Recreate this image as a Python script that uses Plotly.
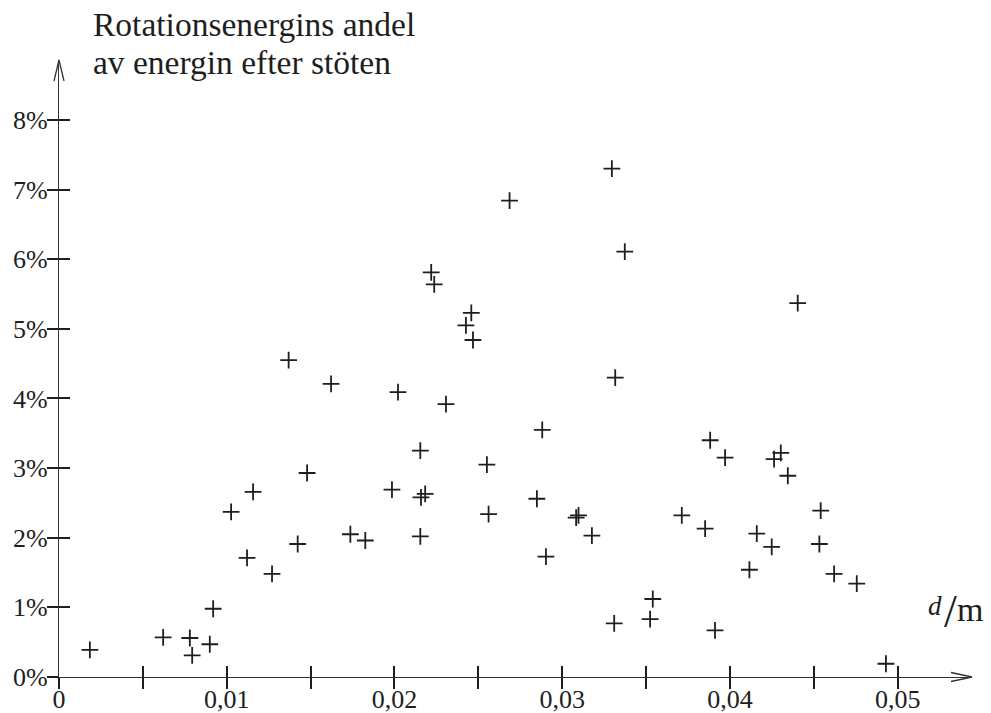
import plotly.graph_objects as go

# ---- data (d in metres, share of rotational energy in %) ----
d_values = [0.00184, 0.00621, 0.00780, 0.00794, 0.00899, 0.00919, 0.01026, 0.01121,
            0.01157, 0.01270, 0.01369, 0.01423, 0.01479, 0.01622, 0.01737, 0.01826,
            0.01985, 0.02021, 0.02154, 0.02154, 0.02158, 0.02183, 0.02219, 0.02237,
            0.02307, 0.02426, 0.02458, 0.02468, 0.02551, 0.02561, 0.02686, 0.02849,
            0.02881, 0.02903, 0.03083, 0.03097, 0.03177, 0.03296, 0.03316, 0.03310,
            0.03373, 0.03524, 0.03540, 0.03713, 0.03852, 0.03882, 0.03911, 0.03971,
            0.04116, 0.04160, 0.04249, 0.04263, 0.04303, 0.04345, 0.04404, 0.04533,
            0.04541, 0.04621, 0.04756, 0.04930]
share_pct = [0.39, 0.57, 0.56, 0.31, 0.47, 0.98, 2.37, 1.71,
             2.66, 1.48, 4.55, 1.91, 2.93, 4.21, 2.05, 1.96,
             2.69, 4.09, 3.25, 2.02, 2.58, 2.63, 5.81, 5.64,
             3.92, 5.05, 5.23, 4.84, 3.05, 2.34, 6.84, 2.56,
             3.55, 1.73, 2.29, 2.32, 2.03, 7.30, 4.30, 0.77,
             6.11, 0.83, 1.12, 2.32, 2.13, 3.40, 0.67, 3.15,
             1.54, 2.06, 1.87, 3.13, 3.22, 2.89, 5.37, 1.91,
             2.39, 1.48, 1.34, 0.19]

x_tick_vals = [0, 0.005, 0.01, 0.015, 0.02, 0.025, 0.03, 0.035, 0.04, 0.045, 0.05]
x_tick_text = ["0", "", "0,01", "", "0,02", "", "0,03", "", "0,04", "", "0,05"]
y_tick_vals = [0, 1, 2, 3, 4, 5, 6, 7, 8]
y_tick_text = ["0%", "1%", "2%", "3%", "4%", "5%", "6%", "7%", "8%"]

title_lines = ["Rotationsenergins andel", "av energin efter stöten"]

X_RANGE = [0, 0.05443]
Y_RANGE = [0, 8.861]

FONT = "Liberation Serif, DejaVu Serif, serif"
INK = "#1e1e1e"
AXIS = "#333333"

W, H = 991, 713
ML, MR, MT, MB = 58.5, 19, 60, 35.7
PW = W - ML - MR
PH = H - MT - MB


def px_x(px):
    return (px - ML) / PW


def px_y(py):
    return (H - MB - py) / PH


fig = go.Figure()
fig.add_trace(go.Scatter(
    x=d_values, y=share_pct, mode="markers",
    marker=dict(symbol="cross-thin", size=12, line=dict(width=1.8, color=INK), color=INK),
    showlegend=False, hoverinfo="skip"))
# empty traces that register the overlay axes (used for the other half of the ticks)
fig.add_trace(go.Scatter(x=[], y=[], xaxis="x2", yaxis="y", showlegend=False, hoverinfo="skip"))
fig.add_trace(go.Scatter(x=[], y=[], xaxis="x", yaxis="y2", showlegend=False, hoverinfo="skip"))

common_x = dict(range=X_RANGE, tickvals=x_tick_vals, showgrid=False, zeroline=False,
                ticklen=11, tickwidth=1.8, tickcolor=INK, automargin=False, fixedrange=True)
common_y = dict(range=Y_RANGE, tickvals=y_tick_vals, showgrid=False, zeroline=False,
                ticklen=11, tickwidth=1.8, tickcolor=INK, automargin=False, fixedrange=True)

fig.update_layout(
    width=W, height=H,
    margin=dict(l=ML, r=MR, t=MT, b=MB, pad=0, autoexpand=False),
    paper_bgcolor="white", plot_bgcolor="white",
    font=dict(family=FONT, size=26, color=INK),
    xaxis=dict(**common_x, ticktext=x_tick_text, ticks="inside", ticklabelstandoff=-1,
               showline=True, linecolor=AXIS, linewidth=1.3,
               tickfont=dict(family=FONT, size=26, color=INK)),
    xaxis2=dict(**common_x, overlaying="x", anchor="y", side="bottom", ticks="outside",
                showticklabels=False, showline=False),
    yaxis=dict(**common_y, ticktext=y_tick_text, ticks="outside", ticklabelstandoff=-6,
               showline=True, linecolor=AXIS, linewidth=1.3,
               tickfont=dict(family=FONT, size=26, color=INK)),
    yaxis2=dict(**common_y, overlaying="y", anchor="x", side="left", ticks="inside",
                showticklabels=False, showline=False),
)

# arrow heads on the axes
fig.add_shape(type="path", xref="x domain", yref="y domain", xsizemode="pixel",
              ysizemode="pixel", xanchor=1, yanchor=0,
              path="M -21,4.5 L 0,0 L -21,-4.5", line=dict(color=AXIS, width=1.3))
fig.add_shape(type="path", xref="x domain", yref="y domain", xsizemode="pixel",
              ysizemode="pixel", xanchor=0, yanchor=1,
              path="M -5,-21 L 0,0 L 5,-21", line=dict(color=AXIS, width=1.3))

# y-axis title (two lines)
for i, line in enumerate(title_lines):
    fig.add_annotation(text=line, xref="paper", yref="paper",
                       x=px_x(92), y=px_y(5 + 38 * i), xanchor="left", yanchor="top",
                       showarrow=False, borderpad=0,
                       font=dict(family=FONT, size=33.5, color=INK))

# x-axis unit label  d / m
fig.add_annotation(text="<i>d</i>", xref="paper", yref="paper", x=px_x(927), y=px_y(590),
                   xanchor="left", yanchor="top", showarrow=False, borderpad=0,
                   font=dict(family=FONT, size=27, color=INK))
fig.add_annotation(text="/", xref="paper", yref="paper", x=px_x(943), y=px_y(585),
                   xanchor="left", yanchor="top", showarrow=False, borderpad=0,
                   font=dict(family=FONT, size=46, color=INK))
fig.add_annotation(text="m", xref="paper", yref="paper", x=px_x(956), y=px_y(590),
                   xanchor="left", yanchor="top", showarrow=False, borderpad=0,
                   font=dict(family=FONT, size=34, color=INK))

fig.write_html("out.html")
